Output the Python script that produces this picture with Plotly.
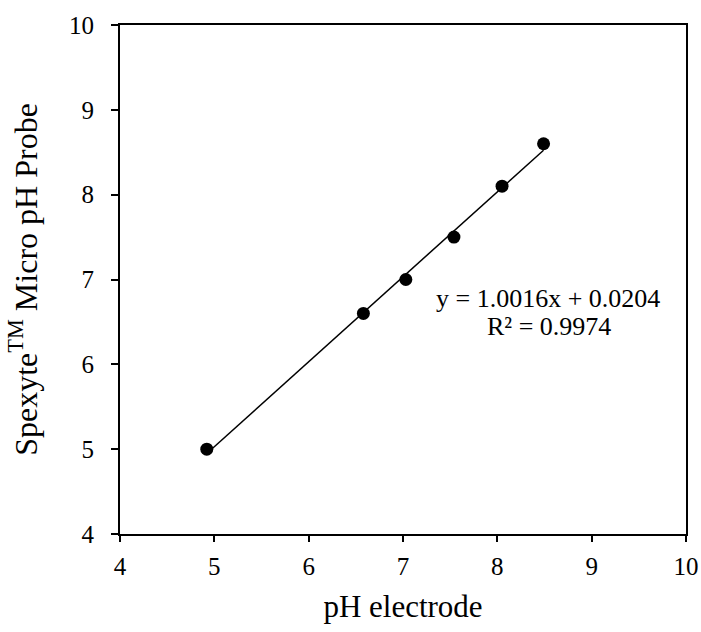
import plotly.graph_objects as go

ph_electrode = [4.92, 6.58, 7.03, 7.54, 8.05, 8.49]
micro_probe = [5.0, 6.6, 7.0, 7.5, 8.1, 8.6]
slope = 1.0016
intercept = 0.0204
r_squared = 0.9974
tick_vals = [4, 5, 6, 7, 8, 9, 10]

xmin, xmax = min(ph_electrode), max(ph_electrode)
fit_x = [xmin, xmax]
fit_y = [slope * v + intercept for v in fit_x]

font_family = "Liberation Serif"

fig = go.Figure()
fig.add_trace(go.Scatter(x=fit_x, y=fit_y, mode="lines",
                         line=dict(color="black", width=1.5), showlegend=False,
                         hoverinfo="skip"))
fig.add_trace(go.Scatter(x=ph_electrode, y=micro_probe, mode="markers",
                         marker=dict(color="black", size=13), showlegend=False))

fig.add_annotation(x=0.7564, y=0.4617, xref="paper", yref="paper",
                   text=f"y = {slope:.4f}x + {intercept:.4f}",
                   showarrow=False, xanchor="center", yanchor="middle",
                   font=dict(family=font_family, size=26, color="black"))
fig.add_annotation(x=0.7584, y=0.4086, xref="paper", yref="paper",
                   text=f"R² = {r_squared:.4f}",
                   showarrow=False, xanchor="center", yanchor="middle",
                   font=dict(family=font_family, size=26, color="black"))

axis_common = dict(range=[4, 10], tickvals=tick_vals, showgrid=False, zeroline=False,
                   showline=True, linecolor="black", linewidth=2, mirror=True,
                   ticks="outside", tickwidth=2, tickcolor="black", automargin=False,
                   tickfont=dict(family=font_family, size=25, color="black"))

fig.update_xaxes(**axis_common, ticklen=6, ticklabelstandoff=3,
                 title=dict(text="pH electrode", standoff=16,
                            font=dict(family=font_family, size=31, color="black")))
fig.update_yaxes(**axis_common, ticklen=7, ticklabelstandoff=12,
                 title=dict(text="Spexyte<sup>TM</sup> Micro pH Probe", standoff=22,
                            font=dict(family=font_family, size=32, color="black")))

fig.update_layout(width=701, height=632, plot_bgcolor="white", paper_bgcolor="white",
                  margin=dict(l=120, r=15, t=25, b=98))

fig.write_html("out.html", config={"displayModeBar": False})

with open("out.html", "r", encoding="utf-8") as f:
    html = f.read()
html = html.replace("<head>", "<head><style>html,body{margin:0;padding:0;overflow:hidden;}</style>", 1)
with open("out.html", "w", encoding="utf-8") as f:
    f.write(html)
